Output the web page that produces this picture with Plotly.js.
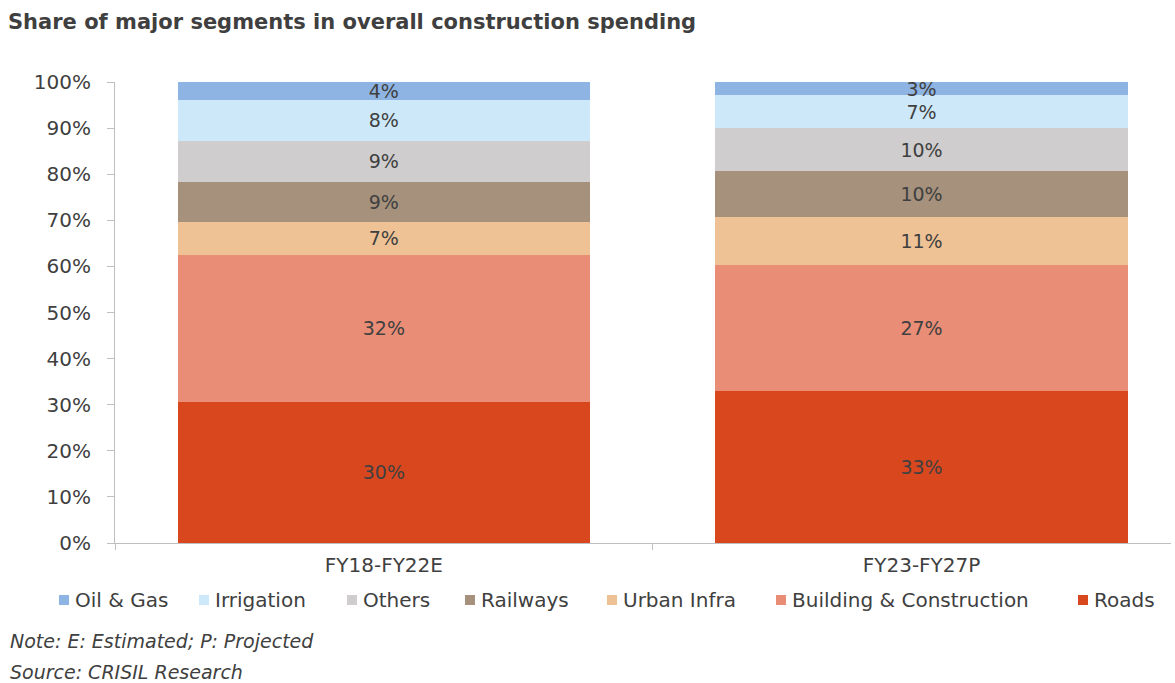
<!DOCTYPE html>
<html>
<head>
<meta charset="utf-8">
<script src="https://cdn.plot.ly/plotly-3.0.1.min.js"></script>
<style>
  html, body { margin: 0; padding: 0; background: #ffffff; }
  #chart { width: 1175px; height: 683px; }
</style>
</head>
<body>
<div id="chart"></div>
<script>
// ---- Data ----
const categories = ['FY18-FY22E', 'FY23-FY27P'];

const seriesNames = ['Roads', 'Building & Construction', 'Urban Infra', 'Railways', 'Others', 'Irrigation', 'Oil & Gas'];

const roads      = [30.6, 33.0];
const building   = [31.9, 27.3];
const urbanInfra = [7.2, 10.5];
const railways   = [8.7, 9.8];
const others     = [8.9, 9.4];
const irrigation = [8.8, 7.2];
const oilGas     = [3.8, 2.7];

const roadsLabels      = ['30%', '33%'];
const buildingLabels   = ['32%', '27%'];
const urbanInfraLabels = ['7%', '11%'];
const railwaysLabels   = ['9%', '10%'];
const othersLabels     = ['9%', '10%'];
const irrigationLabels = ['8%', '7%'];
const oilGasLabels     = ['4%', '3%'];

const yTickVals  = [0, 10, 20, 30, 40, 50, 60, 70, 80, 90, 100];
const yTickTexts = ['0%', '10%', '20%', '30%', '40%', '50%', '60%', '70%', '80%', '90%', '100%'];

// ---- Styling ----
const colors = ['#d9471f', '#e98d76', '#efc296', '#a5917c', '#cfcdcd', '#cde9f9', '#8eb4e3'];
const FONT = 'DejaVu Sans, Arial, sans-serif';
const textColor = '#404040';

const seriesValues = [roads, building, urbanInfra, railways, others, irrigation, oilGas];
const seriesLabels = [roadsLabels, buildingLabels, urbanInfraLabels, railwaysLabels, othersLabels, irrigationLabels, oilGasLabels];

const traces = seriesNames.map((name, i) => ({
  type: 'bar',
  name: name,
  x: categories,
  y: seriesValues[i],
  text: seriesLabels[i],
  textposition: 'inside',
  insidetextanchor: 'middle',
  textangle: 0,
  constraintext: 'none',
  cliponaxis: false,
  textfont: { family: FONT, size: 19, color: textColor },
  marker: { color: colors[i], line: { width: 0 } },
  hoverinfo: 'name+y',
  showlegend: false
}));

// Plot area geometry (pixels) used to place the custom legend row
const W = 1175, H = 683;
const mL = 115, mR = 4, mT = 82, mB = 140;
const plotW = W - mL - mR;
const plotH = H - mT - mB;
const px2paperX = px => (px - mL) / plotW;
const px2paperY = py => (H - mB - py) / plotH;

// Legend row (order as in the reference: reversed stacking order)
const legendOrder = [6, 5, 4, 3, 2, 1, 0];
const legendMarkerX = [64, 204, 352, 470, 612, 781, 1083];
const legendY = 600;

const annotations = [];
const shapes = [];
legendOrder.forEach((si, k) => {
  shapes.push({
    type: 'rect', xref: 'paper', yref: 'paper',
    xsizemode: 'pixel', ysizemode: 'pixel',
    xanchor: px2paperX(legendMarkerX[k]), yanchor: px2paperY(legendY),
    x0: -5, x1: 5, y0: -5, y1: 5,
    fillcolor: colors[si], line: { width: 0 }
  });
  annotations.push({
    xref: 'paper', yref: 'paper',
    x: px2paperX(legendMarkerX[k] + 9), y: px2paperY(legendY),
    xanchor: 'left', yanchor: 'middle',
    text: seriesNames[si], showarrow: false,
    font: { family: FONT, size: 20, color: textColor }
  });
});

annotations.push({
  xref: 'paper', yref: 'paper',
  x: px2paperX(8), y: px2paperY(641), xanchor: 'left', yanchor: 'middle',
  text: '<i>Note: E: Estimated; P: Projected</i>', showarrow: false,
  font: { family: FONT, size: 19, color: '#404040' }
});
annotations.push({
  xref: 'paper', yref: 'paper',
  x: px2paperX(8), y: px2paperY(672), xanchor: 'left', yanchor: 'middle',
  text: '<i>Source: CRISIL Research</i>', showarrow: false,
  font: { family: FONT, size: 19, color: '#404040' }
});

const layout = {
  width: W, height: H,
  margin: { l: mL, r: mR, t: mT, b: mB, pad: 0 },
  paper_bgcolor: '#ffffff',
  plot_bgcolor: '#ffffff',
  barmode: 'stack',
  bargap: 0.233,
  showlegend: false,
  title: {
    text: '<b>Share of major segments in overall construction spending</b>',
    x: 8 / W, xanchor: 'left', xref: 'container',
    y: 1 - 22 / H, yanchor: 'middle', yref: 'container',
    font: { family: FONT, size: 21, color: '#3f3f3f' }
  },
  xaxis: {
    type: 'category',
    range: [-0.5, 1.464],
    showline: true, linecolor: '#bfbfbf', linewidth: 1,
    ticks: 'outside', tickson: 'boundaries', ticklen: 6, tickcolor: '#bfbfbf',
    ticklabelstandoff: 4,
    showgrid: false, zeroline: false,
    tickfont: { family: FONT, size: 20, color: textColor }
  },
  yaxis: {
    range: [0, 100],
    tickvals: yTickVals, ticktext: yTickTexts,
    showline: true, linecolor: '#bfbfbf', linewidth: 1,
    ticks: 'outside', ticklen: 7, tickcolor: '#bfbfbf',
    ticklabelstandoff: 12,
    showgrid: false, zeroline: false,
    tickfont: { family: FONT, size: 20, color: '#404040' }
  },
  annotations: annotations,
  shapes: shapes
};

Plotly.newPlot('chart', traces, layout, { displayModeBar: false, staticPlot: true });
</script>
</body>
</html>
